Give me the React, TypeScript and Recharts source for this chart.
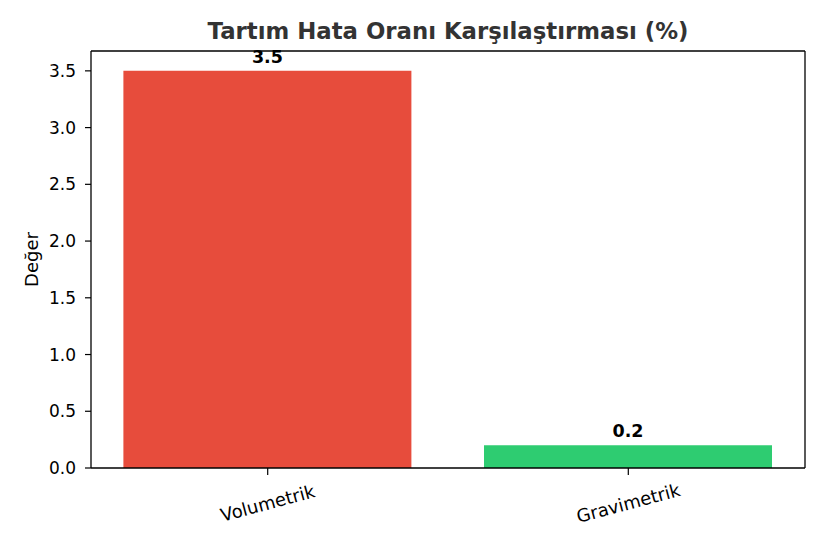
import React from "react";
import { BarChart, Bar, XAxis, YAxis, Cell, LabelList, Label, ReferenceLine } from "recharts";

const categories = ["Volumetrik", "Gravimetrik"];
const values = [3.5, 0.2];
const colors = ["#e74c3c", "#2ecc71"];
const yTicks = [0, 0.5, 1.0, 1.5, 2.0, 2.5, 3.0, 3.5];
const title = "Tartım Hata Oranı Karşılaştırması (%)";
const yLabel = "Değer";

const data = categories.map((name, i) => ({ idx: i, name, value: values[i] }));

const FONT = "'DejaVu Sans', sans-serif";
const X_MIN = -0.49;
const X_MAX = 1.49;
const Y_MAX = 3.675;

const XTick = (props: any) => {
  const { x, y, payload } = props;
  const cx = x;
  const cy = y + 26;
  return (
    <text
      x={cx}
      y={cy}
      textAnchor="middle"
      dominantBaseline="central"
      fontSize={18}
      fontFamily={FONT}
      fill="#000"
      transform={`rotate(-15, ${cx}, ${cy})`}
    >
      {categories[payload.value]}
    </text>
  );
};

export default function App() {
  return (
    <div style={{ position: "absolute", left: 0, top: 0, width: 825, height: 550, background: "#fff" }}>
      <div
        style={{
          position: "absolute",
          left: 91,
          width: 714,
          top: 20,
          textAlign: "center",
          fontFamily: FONT,
          fontWeight: "bold",
          fontSize: 22.8,
          lineHeight: "22px",
          color: "#333333",
          whiteSpace: "nowrap",
        }}
      >
        {title}
      </div>
      <BarChart
        width={825}
        height={550}
        data={data}
        margin={{ top: 51, right: 20, bottom: 22, left: 11 }}
      >
        <XAxis
          xAxisId="main"
          dataKey="idx"
          type="number"
          domain={[X_MIN, X_MAX]}
          ticks={[0, 1]}
          allowDataOverflow
          height={60}
          tickSize={7}
          tick={<XTick />}
          axisLine={{ stroke: "#000", strokeWidth: 1.3 }}
          tickLine={{ stroke: "#000", strokeWidth: 1.2 }}
        />
        <YAxis
          yAxisId="main"
          type="number"
          domain={[0, Y_MAX]}
          ticks={yTicks}
          allowDataOverflow
          width={80}
          tickSize={6}
          tickMargin={9}
          tickFormatter={(v: number) => v.toFixed(1)}
          tick={{ fontSize: 17, fontFamily: FONT, fill: "#000" }}
          axisLine={{ stroke: "#000", strokeWidth: 1.3 }}
          tickLine={{ stroke: "#000", strokeWidth: 1.2 }}
        >
          <Label
            content={(p: any) => {
              const vb = p.viewBox || {};
              const cy = (vb.y ?? 51) + (vb.height ?? 417) / 2;
              return (
                <text
                  x={31}
                  y={cy}
                  textAnchor="middle"
                  dominantBaseline="central"
                  fontSize={18}
                  fontFamily={FONT}
                  fill="#000"
                  transform={`rotate(-90, 31, ${cy})`}
                >
                  {yLabel}
                </text>
              );
            }}
          />
        </YAxis>
        <Bar dataKey="value" xAxisId="main" yAxisId="main" barSize={288} isAnimationActive={false}>
          {data.map((d, i) => (
            <Cell key={d.name} fill={colors[i]} />
          ))}
          <LabelList
            dataKey="value"
            position="top"
            offset={8}
            formatter={(v: any) => Number(v).toFixed(1)}
            style={{ fontSize: 17.5, fontWeight: "bold", fontFamily: FONT, fill: "#000" }}
          />
        </Bar>
        <ReferenceLine
          xAxisId="main"
          yAxisId="main"
          y={Y_MAX}
          stroke="#000"
          strokeWidth={1.3}
          ifOverflow="visible"
        />
        <ReferenceLine
          xAxisId="main"
          yAxisId="main"
          x={X_MAX}
          stroke="#000"
          strokeWidth={1.3}
          ifOverflow="visible"
        />
      </BarChart>
    </div>
  );
}
